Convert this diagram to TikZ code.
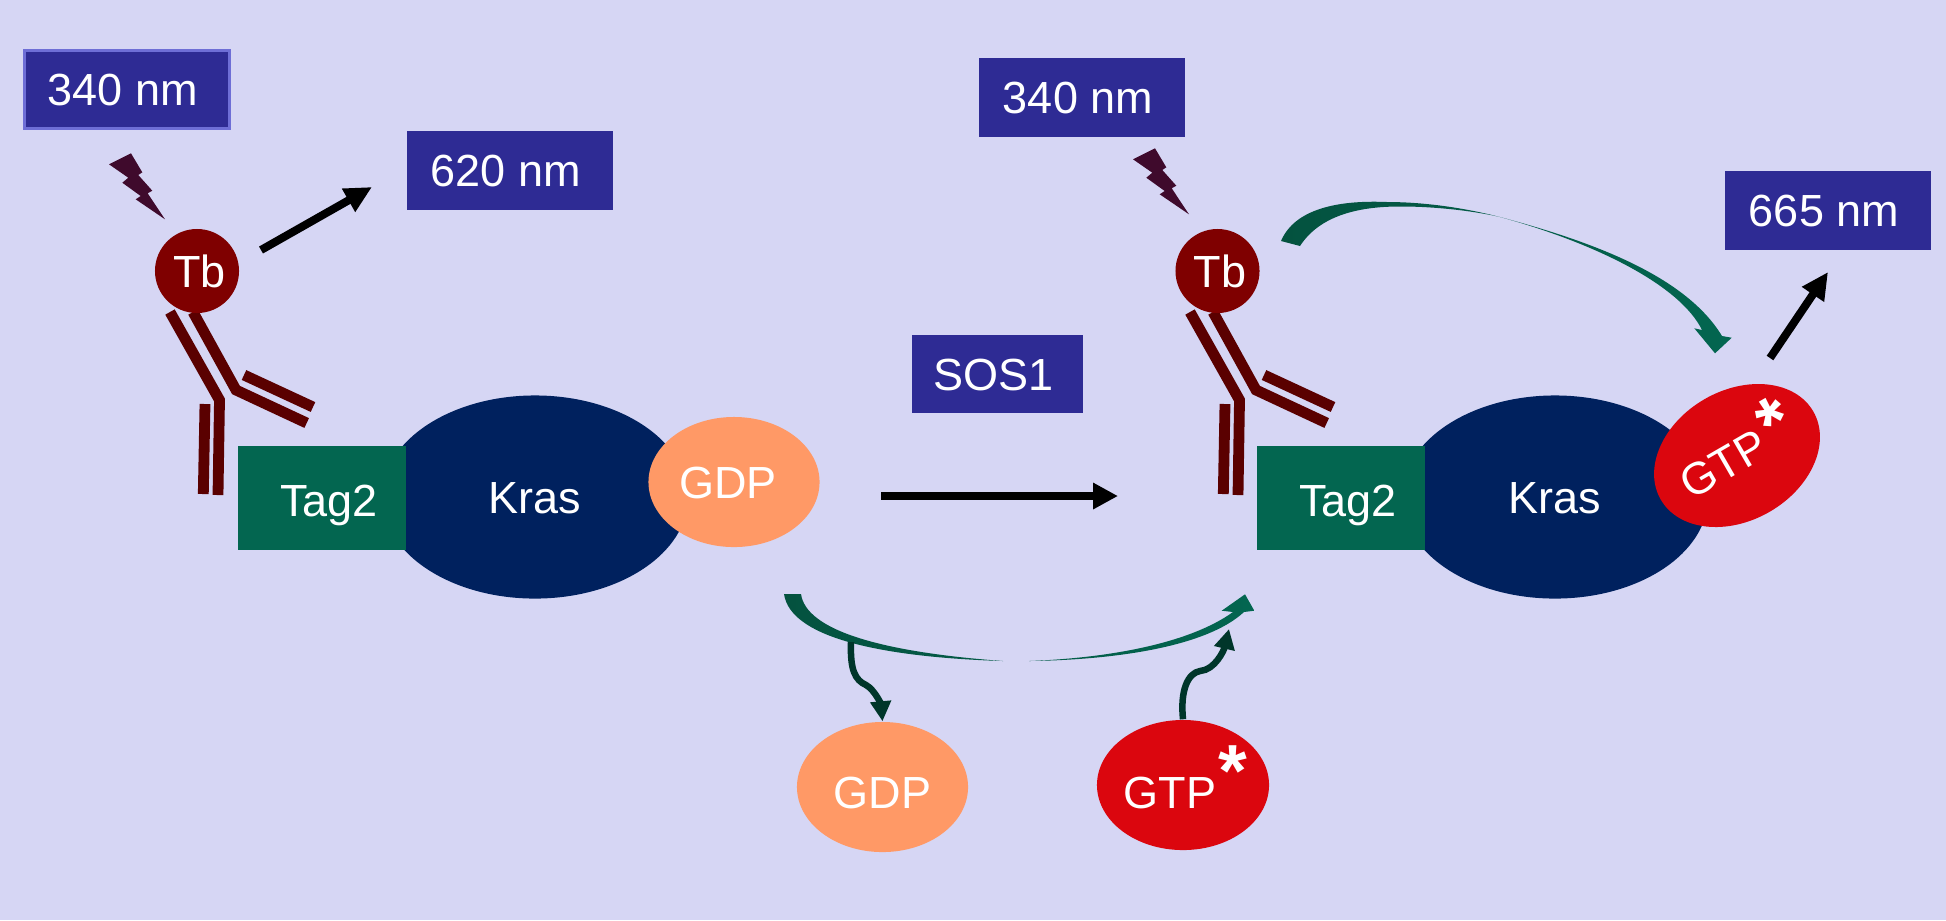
\documentclass[tikz,border=0pt]{standalone}
\usepackage{fontspec}
\setmainfont{Liberation Sans}
\usetikzlibrary{shapes.geometric,arrows.meta}
\definecolor{panelbg}{HTML}{D6D6F4}
\definecolor{boxblue}{HTML}{2E2B94}
\definecolor{boxedge}{HTML}{6E6ED6}
\definecolor{tbred}{HTML}{7F0000}
\definecolor{bodyred}{HTML}{5A0000}
\definecolor{boltpurple}{HTML}{3F0A2C}
\definecolor{tagGreen}{HTML}{036650}
\definecolor{tailGreen}{HTML}{04523F}
\definecolor{wavyGreen}{HTML}{00362A}
\definecolor{krasBlue}{HTML}{00215E}
\definecolor{gdpOrange}{HTML}{FF9966}
\definecolor{gtpRed}{HTML}{DB060E}
\tikzset{
  plaintext/.style={text=white,inner sep=0pt,text height=.32cm,text depth=0pt,
    font=\fontsize{12.8}{15}\selectfont},
  boxlabel/.style={plaintext,rectangle,fill=boxblue,minimum width=2.05cm,minimum height=.78cm},
  tbbead/.style={plaintext,circle,fill=tbred,minimum size=.84cm},
  tagbox/.style={plaintext,rectangle,fill=tagGreen,minimum width=1.68cm,minimum height=1.04cm},
  krasbody/.style={plaintext,ellipse,fill=krasBlue,minimum width=3.06cm,minimum height=2.03cm},
  gdpbead/.style={plaintext,ellipse,fill=gdpOrange,minimum width=1.71cm,minimum height=1.3cm},
  gtpbead/.style={plaintext,ellipse,fill=gtpRed,minimum width=1.72cm,minimum height=1.3cm},
  starmark/.style={text=white,inner sep=0pt,font=\fontsize{21}{21}\selectfont\bfseries},
  antibody/.style={draw=bodyred,line width=.108cm},
  bolt/.style={fill=boltpurple},
  emitarrow/.style={line width=.08cm,-{Triangle[length=.27cm,width=.25cm]}},
  wavyarrow/.style={draw=wavyGreen,line width=.065cm,-{Triangle[length=.2cm,width=.2cm]}},
  fretshade/.style={left color=tailGreen,right color=tagGreen,draw=none}
}
\begin{document}
\begin{tikzpicture}[x=.01cm,y=-.01cm]
  \fill[panelbg] (0,0) rectangle (1946,920);
  \useasboundingbox (0,0) rectangle (1946,920);
% left complex
  \node [boxlabel,draw=boxedge,line width=.03cm] (exciteA) at (127,89.5) {340 nm\hspace*{.08cm}};
  \node [boxlabel] (emitA) at (510,170.5) {620 nm\hspace*{.08cm}};
  \fill[bolt] (131,153.3) -- (142.3,172.3) -- (138.3,175) -- (152.3,190.7) -- (147.7,193.3) -- (165,219.3)
    -- (135.7,199.3) -- (140.7,196) -- (122.3,182.7) -- (128.3,177.7) -- (109,164.3) -- cycle;
  \draw[antibody] (170,312) -- (219.5,400) -- (218,495);
  \draw[antibody] (193,312) -- (236,390) -- (306.7,423);
  \draw[antibody] (205,404) -- (203.3,494);
  \draw[antibody] (244,375) -- (313,407);
  \node [tbbead] (tbA) at (197,271) {\hspace*{.05cm}Tb};
  \coordinate (tbA out) at (261,250);
  \coordinate (emitA in) at (372,187);
  \draw[emitarrow] (tbA out) -- (emitA in);
  \node [krasbody] (krasA) at (535,497) {Kras};
  \node [tagbox,text height=.36cm] (tagA) at (322,498) {\hspace*{.14cm}Tag2};
  \node [gdpbead] (gdpA) at (734,482) {GDP\hspace*{.12cm}};
% exchange
  \node [boxlabel,minimum width=1.71cm] (sos) at (997.5,374) {SOS1\hspace*{.08cm}};
  \coordinate (swap from) at (881,496);
  \coordinate (swap to) at (1118,496);
  \draw[line width=.08cm,-{Triangle[length=.25cm,width=.25cm]}] (swap from) -- (swap to);
% right complex
  \node [boxlabel] (exciteB) at (1082,97.5) {340 nm\hspace*{.08cm}};
  \node [boxlabel] (emitB) at (1828,210.5) {665 nm\hspace*{.08cm}};
  \fill[bolt] (1155,148.3) -- (1166.3,167.3) -- (1162.3,170) -- (1176.3,185.7) -- (1171.7,188.3) -- (1189,214.3)
    -- (1159.7,194.3) -- (1164.7,191) -- (1146.3,177.7) -- (1152.3,172.7) -- (1133,159.3) -- cycle;
  \draw[antibody] (1190,312) -- (1239.5,400) -- (1238,495);
  \draw[antibody] (1213,312) -- (1256,390) -- (1326.7,423);
  \draw[antibody] (1225,404) -- (1223.3,494);
  \draw[antibody] (1264,375) -- (1333,407);
  \node [tbbead] (tbB) at (1217.5,271) {\hspace*{.05cm}Tb};
  \node [krasbody] (krasB) at (1555,497) {Kras};
  \node [tagbox,text height=.36cm] (tagB) at (1341,498) {\hspace*{.14cm}Tag2};
  \node [gtpbead,rotate=30] (gtpB) at (1737,455.5) {GTP\hspace*{.32cm}};
  \node [starmark,rotate=30] (starB) at (1775,422) {*};
  \coordinate (gtpB out) at (1770,358);
  \coordinate (emitB in) at (1828,272);
  \draw[emitarrow] (gtpB out) -- (emitB in);
% energy transfer
  \shade[fretshade] (1281,241) .. controls (1295,208) and (1340,200) .. (1387,202)
    .. controls (1425,202) and (1465,208) .. (1500,217)
    .. controls (1590,241) and (1685,275) .. (1722,336) -- (1731.7,337.7) -- (1715,353.3) -- (1694.3,328.3) -- (1702,330)
    .. controls (1680,285) and (1595,243) .. (1500,217)
    .. controls (1465,209) and (1425,206.5) .. (1403,206.5)
    .. controls (1360,206) and (1320,215) .. (1300,246) -- cycle;
% nucleotide swap
  \shade[fretshade] (784,594) .. controls (790,636) and (875,657) .. (1003,661)
    .. controls (880,652) and (806,630) .. (801,594) -- cycle
    (1029,661) .. controls (1110,658) and (1190,643) .. (1233,612) -- (1221.7,610.7) -- (1245,594.3) -- (1254.3,610.7) -- (1244,612)
    .. controls (1205,648) and (1110,660) .. (1029,661) -- cycle;
  \node [gdpbead,text height=.42cm] (gdpFree) at (882.5,787) {GDP};
  \node [gtpbead,text height=.46cm] (gtpFree) at (1183,785) {GTP\hspace*{.26cm}};
  \node [starmark] (starFree) at (1233,771) {*};
  \coordinate (gdp leave) at (851,642);
  \coordinate (gtp enter) at (1229,629);
  \draw[wavyarrow] (gdp leave) .. controls (850,670) and (855,680) .. (866,685)
    .. controls (875,690) and (881,705) .. (gdpFree.north);
  \draw[wavyarrow] (gtpFree.north) .. controls (1180,690) and (1188,673) .. (1200,671)
    .. controls (1215,670) and (1224,650) .. (gtp enter);
\end{tikzpicture}
\end{document}
